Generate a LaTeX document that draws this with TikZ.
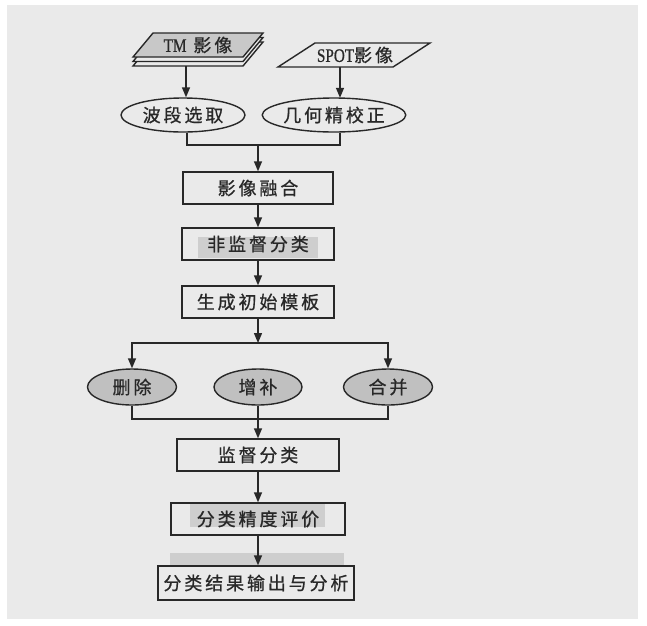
\documentclass[tikz,border=0pt]{standalone}
\usepackage{fontspec}
\newfontfamily\cjk[LetterSpace=16,FakeBold=0.8]{Noto Sans CJK SC}
\newfontfamily\latn[FakeBold=0.6]{Liberation Serif}
\usetikzlibrary{arrows.meta,shapes.geometric,calc}
\definecolor{pagebg}{RGB}{234,234,234}
\definecolor{ink}{RGB}{40,40,40}
\definecolor{ellfill}{RGB}{192,192,192}
\definecolor{tmfill}{RGB}{200,200,200}
\definecolor{hilite}{RGB}{206,206,206}
\tikzset{
  every node/.style={font=\cjk\fontsize{18}{20}\selectfont, text=ink, inner sep=0pt},
  line/.style={draw=ink, line width=1.4pt},
  arr/.style={line, -{Triangle[length=10pt,width=8pt]}},
  stepbox/.style={line, rectangle, minimum height=32pt},
  ovalw/.style={line, ellipse, minimum width=124pt, minimum height=34pt},
  ovalg/.style={line, ellipse, fill=ellfill, minimum width=89pt, minimum height=36pt},
  para/.style={line, line join=miter},
}
\begin{document}
\begin{tikzpicture}[x=1pt,y=-1pt]
\useasboundingbox (0,0) rectangle (647,625);
\fill[white] (0,0) rectangle (647,625);
\fill[pagebg] (7,5) rectangle (638,619);
% highlights
\fill[hilite] (198,237) rectangle (318,258);
\fill[hilite] (190,503) rectangle (325,527);
\fill[hilite] (170,553) rectangle (344,566);
% TM stack
\draw[para, fill=pagebg] (153,42) -- (263,42) -- (243,66) -- (133,66) -- cycle;
\draw[para, fill=pagebg] (153,37.5) -- (263,37.5) -- (243,61.5) -- (133,61.5) -- cycle;
\draw[para, fill=tmfill] (153,33) -- (263,33) -- (243,57) -- (133,57) -- cycle;
\node (tm) at (198,45) {{\latn\addfontfeature{FakeStretch=0.8}\fontsize{19}{20}\selectfont TM} 影像};
\coordinate (tmb) at (186,66);
% SPOT
\draw[para] (315,43) -- (430,43) -- (393,67) -- (278,67) -- cycle;
\node (spot) at (355,55) {{\latn\addfontfeature{FakeStretch=0.8}\fontsize{19}{20}\selectfont SPOT}影像};
\coordinate (spotb) at (340,67);
% ellipses
\node[ovalw] (e1) at (183,115) {波段选取};
\node[ovalw] (e2) at (334,115) {几何精校正};
\draw[arr] (tmb) -- (tmb |- e1.north);
\draw[arr] (spotb) -- ($(spotb |- e2.north)+(0,0.5)$);
% merge
\coordinate (mj) at (258,145);
\draw[line] (e1.south) ++(4,0) coordinate (e1s) (e1s) |- (mj);
\draw[line] (spotb |- e2.south) |- (mj);
% boxes
\node[stepbox, minimum width=150pt] (b1) at (258,188) {影像融合};
\node[stepbox, minimum width=152pt] (b2) at (258,244) {非监督分类};
\node[stepbox, minimum width=152pt] (b3) at (258,302) {生成初始模板};
\draw[arr] (mj) -- (b1.north);
\draw[arr] (b1.south) -- (b2.north);
\draw[arr] (b2.south) -- (b3.north);
% split
\node[ovalg] (g1) at (132,387) {删除};
\node[ovalg, minimum width=88pt] (g2) at (258,387) {增补};
\node[ovalg] (g3) at (388,387) {合并};
\coordinate (sp) at (258,343);
\draw[arr] (b3.south) -- (sp);
\draw[arr] (sp) -| (g1.north);
\draw[arr] (sp) -| (g3.north);
% join
\node[stepbox, minimum width=162pt] (b4) at (258,455) {监督分类};
\coordinate (jn) at (258,419);
\draw[line] (g1.south) |- (jn);
\draw[line] (g3.south) |- (jn);
\draw[arr] (g2.south) -- (b4.north);
% tail
\node[stepbox, minimum width=174pt] (b5) at (258,519) {分类精度评价};
\node[stepbox, minimum width=196pt, minimum height=34pt] (b6) at (256,583) {分类结果输出与分析};
\draw[arr] (b4.south) -- (b5.north);
\draw[arr] (b5.south) -- (b5.south |- b6.north);
\end{tikzpicture}
\end{document}
